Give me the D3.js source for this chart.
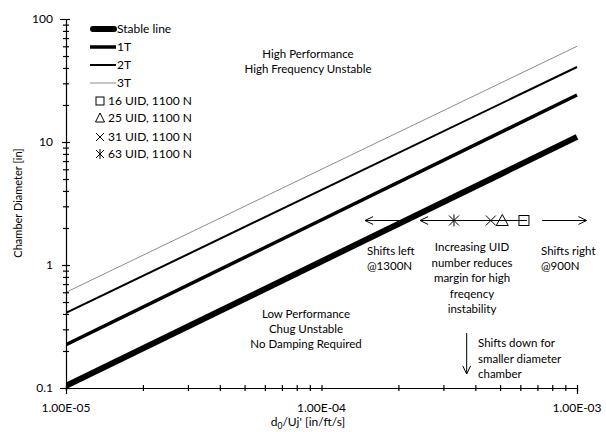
<!DOCTYPE html>
<html>
<head>
<meta charset="utf-8">
<script src="https://cdn.jsdelivr.net/npm/d3@7"></script>
<style>
  html, body { margin: 0; padding: 0; background: #fff; }
  svg { display: block; font-family: Lato, "Liberation Sans", sans-serif; }
  text { fill: #000; }
</style>
</head>
<body>
<svg id="chart" width="606" height="432"></svg>
<script>
// Stability lines (log-log straight lines, given at the two x ends)
const xEnds = [1e-5, 1e-3];
const stableLine = [0.104, 11.0];
const line1T = [0.225, 24.1];
const line2T = [0.408, 40.7];
const line3T = [0.60, 60];

// Test points, all at 1100 N
const uidLabels = ["16 UID, 1100 N", "25 UID, 1100 N", "31 UID, 1100 N", "63 UID, 1100 N"];
const uidX = [6.2e-4, 5.1e-4, 4.6e-4, 3.3e-4];
const uidY = [2.3, 2.3, 2.3, 2.3];
const uidSymbols = ["square", "triangle", "cross", "asterisk"];

// Axis ticks
const xTickValues = [1e-5, 1e-4, 1e-3];
const xTickLabels = ["1.00E-05", "1.00E-04", "1.00E-03"];
const yTickValues = [0.1, 1, 10, 100];
const yTickLabels = ["0.1", "1", "10", "100"];

// Annotation arrows (data coordinates)
const arrowY = 2.3;
const arrowsX = [[2.22e-4, 1.48e-4], [6.37e-4, 2.43e-4], [7.3e-4, 1.09e-3]];
const downArrowX = 3.7e-4;
const downArrowY = [0.28, 0.13];

const svg = d3.select("#chart");
const x = d3.scaleLog().domain([1e-5, 1e-3]).range([66, 577]);
const y = d3.scaleLog().domain([0.1, 100]).range([388, 19]);

function minorTicks(lo, hi) {
  const out = [];
  for (let e = Math.round(Math.log10(lo)); Math.pow(10, e) < hi; e++)
    for (let m = 1; m <= 9; m++) out.push(m * Math.pow(10, e));
  out.push(hi);
  return out;
}

// Lines
const series = [
  { name: "Stable line", v: stableLine, w: 6, c: "#000" },
  { name: "1T", v: line1T, w: 3.5, c: "#000" },
  { name: "2T", v: line2T, w: 2, c: "#000" },
  { name: "3T", v: line3T, w: 1, c: "#8c8c8c" }
];
const lineGen = d3.line().x(d => x(d[0])).y(d => y(d[1]));
svg.append("defs").append("clipPath").attr("id", "plotclip")
  .append("rect").attr("x", 66).attr("y", 10).attr("width", 530).attr("height", 382);
const lg = svg.append("g").attr("clip-path", "url(#plotclip)");
series.forEach(s => {
  lg.append("path")
    .attr("d", lineGen(xEnds.map((xv, i) => [xv, s.v[i]])))
    .attr("fill", "none").attr("stroke", s.c).attr("stroke-width", s.w);
});

// Axes
const xAxis = d3.axisBottom(x).tickValues(minorTicks(1e-5, 1e-3)).tickSize(6)
  .tickFormat(() => "");
const gx = svg.append("g").attr("transform", "translate(0,388)").call(xAxis);
gx.selectAll(".tick line").attr("y1", -3).attr("y2", 3);
const yAxis = d3.axisLeft(y).tickValues(minorTicks(0.1, 100)).tickSize(6)
  .tickFormat(() => "");
const gy = svg.append("g").attr("transform", "translate(66,0)").call(yAxis);
gy.selectAll(".tick line").attr("x1", -3).attr("x2", 3);
gy.selectAll(".tick").filter(d => yTickValues.some(t => Math.abs(t - d) / t < 1e-6))
  .select("line").attr("x1", -4).attr("x2", 4);
[gx, gy].forEach(g => {
  g.select(".domain").attr("stroke", "#000").attr("stroke-width", 1.2);
  g.selectAll(".tick line").attr("stroke", "#000").attr("stroke-width", 1.2);
});

// Tick labels
xTickValues.forEach((v, i) => {
  svg.append("text").attr("x", x(v)).attr("y", 412).attr("text-anchor", "middle")
    .attr("font-size", 12).text(xTickLabels[i]);
});
yTickValues.forEach((v, i) => {
  svg.append("text").attr("x", 53).attr("y", y(v) + 4).attr("text-anchor", "end")
    .attr("font-size", 12).text(yTickLabels[i]);
});

// Axis titles
const xt = svg.append("text").attr("x", 308).attr("y", 426).attr("text-anchor", "middle")
  .attr("font-size", 12);
xt.append("tspan").text("d");
xt.append("tspan").attr("font-size", 8.5).attr("dy", 3).text("0");
xt.append("tspan").attr("dy", -3).text("/Uj' [in/ft/s]");
svg.append("text").attr("transform", "translate(22,203) rotate(-90)")
  .attr("text-anchor", "middle").attr("font-size", 11).text("Chamber Diameter [in]");

// Marker symbols
function drawSymbol(g, kind, cx, cy) {
  const st = { fill: "none", stroke: "#000", "stroke-width": 1 };
  const apply = sel => { Object.entries(st).forEach(([k, v]) => sel.attr(k, v)); return sel; };
  if (kind === "square") {
    apply(g.append("rect").attr("x", cx - 5).attr("y", cy - 5).attr("width", 10).attr("height", 10));
  } else if (kind === "triangle") {
    apply(g.append("path").attr("d", `M${cx},${cy - 6}L${cx + 6},${cy + 5}L${cx - 6},${cy + 5}Z`));
  } else if (kind === "cross") {
    apply(g.append("path").attr("d", `M${cx - 5},${cy - 5}L${cx + 5},${cy + 5}M${cx + 5},${cy - 5}L${cx - 5},${cy + 5}`));
  } else {
    apply(g.append("path").attr("d", `M${cx - 5},${cy - 5}L${cx + 5},${cy + 5}M${cx + 5},${cy - 5}L${cx - 5},${cy + 5}M${cx},${cy - 6}L${cx},${cy + 6}`));
  }
}

// Arrows
function arrow(x1, y1, x2, y2) {
  svg.append("line").attr("x1", x1).attr("y1", y1).attr("x2", x2).attr("y2", y2)
    .attr("stroke", "#000").attr("stroke-width", 1);
  const a = Math.atan2(y2 - y1, x2 - x1), L = 9, s = 0.45;
  svg.append("path")
    .attr("d", `M${x2 - L * Math.cos(a - s)},${y2 - L * Math.sin(a - s)}L${x2},${y2}L${x2 - L * Math.cos(a + s)},${y2 - L * Math.sin(a + s)}`)
    .attr("fill", "none").attr("stroke", "#000").attr("stroke-width", 1);
}
arrowsX.forEach(([a, b]) => arrow(x(a), y(arrowY), x(b), y(arrowY)));
arrow(x(downArrowX), y(downArrowY[0]), x(downArrowX), y(downArrowY[1]));

// Data points
const pg = svg.append("g");
uidX.forEach((xv, i) => drawSymbol(pg, uidSymbols[i], x(xv), y(uidY[i])));

// Legend
const leg = svg.append("g");
const legRows = [29, 47, 65, 83, 101, 118, 137, 154];
series.forEach((s, i) => {
  leg.append("line").attr("x1", i === 0 ? 93 : 90).attr("x2", i === 0 ? 114 : 116)
    .attr("y1", legRows[i]).attr("y2", legRows[i])
    .attr("stroke", s.c).attr("stroke-width", s.w).attr("stroke-linecap", i === 0 ? "round" : "butt");
  leg.append("text").attr("x", 117).attr("y", legRows[i] + 4).attr("font-size", 12).text(s.name);
});
uidLabels.forEach((lab, i) => {
  const ry = legRows[4 + i];
  const g = leg.append("g");
  if (uidSymbols[i] === "square") g.append("rect").attr("x", 96).attr("y", ry - 4).attr("width", 8).attr("height", 8).attr("fill", "none").attr("stroke", "#000");
  else if (uidSymbols[i] === "triangle") g.append("path").attr("d", `M100,${ry - 5}L104.5,${ry + 4}L95.5,${ry + 4}Z`).attr("fill", "none").attr("stroke", "#000");
  else if (uidSymbols[i] === "cross") g.append("path").attr("d", `M96,${ry - 4}L104,${ry + 4}M104,${ry - 4}L96,${ry + 4}`).attr("fill", "none").attr("stroke", "#000");
  else g.append("path").attr("d", `M96,${ry - 4}L104,${ry + 4}M104,${ry - 4}L96,${ry + 4}M100,${ry - 5}L100,${ry + 5}`).attr("fill", "none").attr("stroke", "#000");
  leg.append("text").attr("x", 108).attr("y", ry + 4).attr("font-size", 12).text(lab);
});

// Region notes
function note(lines, xPos, yStart, step, anchor) {
  lines.forEach((t, i) => {
    svg.append("text").attr("x", xPos).attr("y", yStart + i * step)
      .attr("text-anchor", anchor).attr("font-size", 11.5).text(t);
  });
}
note(["High Performance", "High Frequency  Unstable"], 308, 58, 15, "middle");
note(["Low Performance", "Chug Unstable", "No Damping Required"], 306, 318, 15, "middle");
note(["Shifts left", "@1300N"], 367, 255, 15, "start");
note(["Increasing UID", "number reduces", "margin for high", "freqency", "instability"], 472, 251, 15.5, "middle");
note(["Shifts right", "@900N"], 541, 255, 15, "start");
note(["Shifts down for", "smaller diameter", "chamber"], 478, 347, 15.5, "start");
</script>
</body>
</html>
